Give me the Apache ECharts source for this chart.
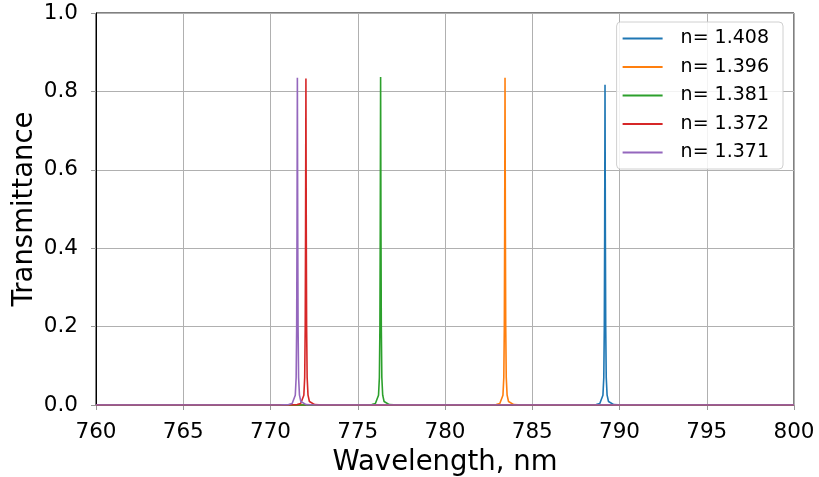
<!DOCTYPE html>
<html>
<head>
<meta charset="utf-8">
<script src="https://cdn.jsdelivr.net/npm/echarts@6/dist/echarts.min.js"></script>
<style>html,body{margin:0;padding:0;background:#fff}#c{width:819px;height:477px}</style>
</head>
<body>
<div id="c"></div>
<script>
const seriesNames = ['n= 1.408', 'n= 1.396', 'n= 1.381', 'n= 1.372', 'n= 1.371'];
const colors = ['#1f77b4', '#ff7f0e', '#2ca02c', '#d62728', '#9467bd'];
const xTicks = [760, 765, 770, 775, 780, 785, 790, 795, 800];
const yTicks = [0.0, 0.2, 0.4, 0.6, 0.8, 1.0];

const wl_1408 = [760, 788.17, 788.67, 788.87, 788.97, 789.05, 789.10, 789.13, 789.15, 789.17, 789.19, 789.21, 789.24, 789.29, 789.37, 789.47, 789.67, 790.17, 800];
const t_1408  = [0, 0, 0.001, 0.004, 0.009, 0.025, 0.07, 0.2, 0.44, 0.817, 0.44, 0.2, 0.07, 0.025, 0.009, 0.004, 0.001, 0, 0];
const wl_1396 = [760, 782.44, 782.94, 783.14, 783.24, 783.32, 783.37, 783.40, 783.42, 783.44, 783.46, 783.48, 783.51, 783.56, 783.64, 783.74, 783.94, 784.44, 800];
const t_1396  = [0, 0, 0.001, 0.004, 0.009, 0.025, 0.07, 0.2, 0.45, 0.835, 0.45, 0.2, 0.07, 0.025, 0.009, 0.004, 0.001, 0, 0];
const wl_1381 = [760, 775.31, 775.81, 776.01, 776.11, 776.19, 776.24, 776.27, 776.29, 776.31, 776.33, 776.35, 776.38, 776.43, 776.51, 776.61, 776.81, 777.31, 800];
const t_1381  = [0, 0, 0.001, 0.004, 0.009, 0.025, 0.07, 0.2, 0.45, 0.837, 0.45, 0.2, 0.07, 0.025, 0.009, 0.004, 0.001, 0, 0];
const wl_1372 = [760, 771.03, 771.53, 771.73, 771.83, 771.91, 771.96, 771.99, 772.01, 772.03, 772.05, 772.07, 772.10, 772.15, 772.23, 772.33, 772.53, 773.03, 800];
const t_1372  = [0, 0, 0.001, 0.004, 0.009, 0.025, 0.07, 0.2, 0.45, 0.833, 0.45, 0.2, 0.07, 0.025, 0.009, 0.004, 0.001, 0, 0];
const wl_1371 = [760, 770.54, 771.04, 771.24, 771.34, 771.42, 771.47, 771.50, 771.52, 771.54, 771.56, 771.58, 771.61, 771.66, 771.74, 771.84, 772.04, 772.54, 800];
const t_1371  = [0, 0, 0.001, 0.004, 0.009, 0.025, 0.07, 0.2, 0.45, 0.835, 0.45, 0.2, 0.07, 0.025, 0.009, 0.004, 0.001, 0, 0];

const xs = [wl_1408, wl_1396, wl_1381, wl_1372, wl_1371];
const ys = [t_1408, t_1396, t_1381, t_1372, t_1371];

const font = 'DejaVu Sans';
const chart = echarts.init(document.getElementById('c'), null, {renderer: 'canvas'});
chart.setOption({
  animation: false,
  backgroundColor: '#fff',
  grid: {left: 96, right: 25, top: 13, bottom: 72, containLabel: false, outerBoundsMode: 'none',
         show: true, borderColor: '#000', borderWidth: 1, backgroundColor: 'transparent'},
  legend: {
    orient: 'vertical', right: 36, top: 22,
    data: seriesNames,
    icon: 'rect',
    itemWidth: 40, itemHeight: 2, itemGap: 9.5,
    padding: [7, 14, 7, 6],
    backgroundColor: 'rgba(255,255,255,0.85)',
    borderColor: '#d0d0d0', borderWidth: 1, borderRadius: 4,
    textStyle: {fontFamily: font, fontSize: 19, color: '#000', padding: [0, 0, 0, 13]}
  },
  xAxis: {
    type: 'value', min: xTicks[0], max: xTicks[xTicks.length - 1], interval: 5,
    name: 'Wavelength, nm', nameLocation: 'middle', nameGap: 44,
    nameTextStyle: {fontFamily: font, fontSize: 27.5, color: '#000'},
    axisLine: {show: true, lineStyle: {color: '#000', width: 1}},
    axisTick: {show: true, length: 5, lineStyle: {color: '#999'}},
    axisLabel: {fontFamily: font, fontSize: 21.5, color: '#000', margin: 16},
    splitLine: {show: true, lineStyle: {color: '#b0b0b0', width: 1}}
  },
  yAxis: {
    type: 'value', min: yTicks[0], max: yTicks[yTicks.length - 1], interval: 0.2,
    name: 'Transmittance', nameLocation: 'middle', nameGap: 57, nameMoveOverlap: false,
    nameTextStyle: {fontFamily: font, fontSize: 27.5, color: '#000'},
    axisLine: {show: true, lineStyle: {color: '#000', width: 1}},
    axisTick: {show: true, length: 5, lineStyle: {color: '#999'}},
    axisLabel: {fontFamily: font, fontSize: 21.5, color: '#000', margin: 18, formatter: v => v.toFixed(1)},
    splitLine: {show: true, lineStyle: {color: '#b0b0b0', width: 1}}
  },
  series: seriesNames.map((n, i) => ({
    name: n, type: 'line', symbol: 'none', smooth: false,
    color: colors[i],
    lineStyle: {color: colors[i], width: 1.6},
    data: xs[i].map((x, j) => [x, ys[i][j]])
  }))
});
</script>
</body>
</html>
